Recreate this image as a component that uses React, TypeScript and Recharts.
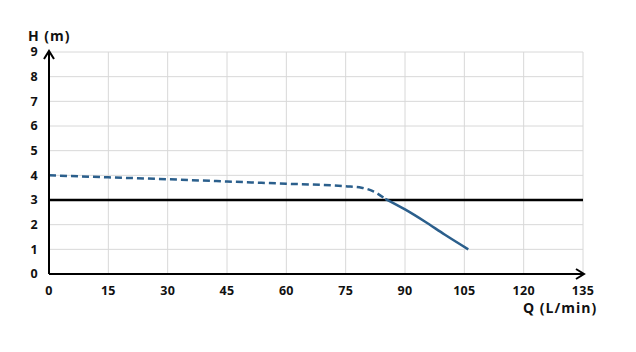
import React from "react";
import { LineChart, Line, XAxis, YAxis, CartesianGrid, ReferenceLine, ReferenceDot } from "recharts";

const xTicks = [0, 15, 30, 45, 60, 75, 90, 105, 120, 135];
const yTicks = [0, 1, 2, 3, 4, 5, 6, 7, 8, 9];

const dashedQ = [0, 15, 30, 45, 60, 75, 79, 82, 85];
const dashedH = [4.0, 3.92, 3.84, 3.75, 3.66, 3.56, 3.5, 3.35, 3.05];
const solidQ = [85, 90, 95, 100, 106];
const solidH = [3.05, 2.62, 2.13, 1.6, 1.0];

const workingH = 3;

const dashedData = dashedQ.map((q, i) => ({ q, h: dashedH[i] }));
const solidData = solidQ.map((q, i) => ({ q, h: solidH[i] }));

const FONT = "'Open Sans', sans-serif";
const curveColor = "#2b5f8c";

const UpArrow = (props: any) => {
  const { cx, cy } = props;
  return <path d={`M${cx - 5},${cy + 7} L${cx},${cy - 1} L${cx + 5},${cy + 7}`} fill="none" stroke="#000" strokeWidth={2} />;
};
const RightArrow = (props: any) => {
  const { cx, cy } = props;
  return <path d={`M${cx - 7},${cy - 5} L${cx + 1},${cy} L${cx - 7},${cy + 5}`} fill="none" stroke="#000" strokeWidth={2} />;
};

export default function App() {
  const tickStyle = { fill: "#111", fontSize: 12.5, fontWeight: 700, fontFamily: FONT, letterSpacing: 0.3 };
  const labelStyle: React.CSSProperties = { position: "absolute", fontSize: 14, fontWeight: 700, color: "#111", whiteSpace: "nowrap", letterSpacing: 1, lineHeight: "12px" };
  return (
    <div style={{ position: "absolute", left: 0, top: 0, width: 636, height: 352, background: "#fff", fontFamily: FONT }}>
      <LineChart width={636} height={352} margin={{ top: 52, right: 53, bottom: 48, left: 0 }}>
        <CartesianGrid stroke="#d8d8d8" strokeWidth={1} />
        <XAxis
          type="number"
          dataKey="q"
          domain={[0, 135]}
          ticks={xTicks}
          interval={0}
          height={30}
          tickSize={0}
          tickMargin={12}
          axisLine={{ stroke: "#000", strokeWidth: 2 }}
          tick={tickStyle}
          allowDuplicatedCategory={false}
        />
        <YAxis
          type="number"
          domain={[0, 9]}
          ticks={yTicks}
          interval={0}
          width={49}
          tickSize={0}
          tickMargin={11}
          axisLine={{ stroke: "#000", strokeWidth: 2 }}
          tick={tickStyle}
        />
        <ReferenceLine y={workingH} stroke="#000" strokeWidth={2.5} />
        <Line data={dashedData} dataKey="h" type="monotone" stroke={curveColor} strokeWidth={2.5} strokeDasharray="7 4" dot={false} isAnimationActive={false} />
        <Line data={solidData} dataKey="h" type="monotone" stroke={curveColor} strokeWidth={2.5} dot={false} isAnimationActive={false} />
        <ReferenceDot x={0} y={9} ifOverflow="visible" shape={<UpArrow />} />
        <ReferenceDot x={135} y={0} ifOverflow="visible" shape={<RightArrow />} />
      </LineChart>
      <div style={{ ...labelStyle, left: 28, top: 30 }}>H (m)</div>
      <div style={{ ...labelStyle, left: 523, top: 302 }}>Q (L/min)</div>
    </div>
  );
}
